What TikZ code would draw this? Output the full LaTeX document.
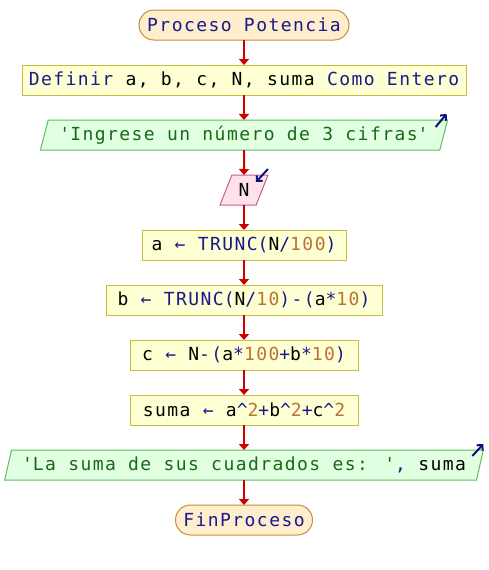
\documentclass[tikz,border=0pt]{standalone}
\usepackage{fontspec}
\usetikzlibrary{shapes.geometric,arrows.meta}
\newfontfamily\codefont{DejaVu Sans Mono}[LetterSpace=8]
\definecolor{kwblue}{RGB}{25,25,140}
\definecolor{numbrown}{RGB}{185,115,55}
\definecolor{strgreen}{RGB}{25,105,25}
\definecolor{termfill}{RGB}{255,238,205}
\definecolor{termline}{RGB}{200,140,60}
\definecolor{procfill}{RGB}{255,255,212}
\definecolor{procline}{RGB}{200,190,60}
\definecolor{outfill}{RGB}{225,255,225}
\definecolor{outline}{RGB}{95,190,95}
\definecolor{infill}{RGB}{255,225,238}
\definecolor{inline}{RGB}{195,95,135}
\definecolor{flowred}{RGB}{205,0,0}
\definecolor{iconblue}{RGB}{15,15,125}
\newcommand{\pkw}[1]{\textcolor{kwblue}{#1}}
\newcommand{\pnum}[1]{\textcolor{numbrown}{#1}}
\newcommand{\pstr}[1]{\textcolor{strgreen}{#1}}
\newcommand{\pop}[1]{\textcolor{kwblue}{#1}}
\begin{document}
\begin{tikzpicture}[x=1pt,y=-1pt,
    every node/.style={font=\codefont\fontsize{18}{20}\selectfont,inner sep=0pt,outer sep=0pt,line width=1pt},
    term/.style={draw=termline,fill=termfill,rounded corners=15pt,minimum height=30pt},
    proc/.style={draw=procline,fill=procfill,minimum height=30pt},
    io/.style={trapezium,trapezium left angle=68,trapezium right angle=112,trapezium stretches=true,minimum height=30pt},
    outbox/.style={io,draw=outline,fill=outfill},
    inbox/.style={io,draw=inline,fill=infill},
    flow/.style={-{Triangle[width=10pt,length=6pt]},line width=2pt,draw=flowred},
    ioarrow/.style={-{Straight Barb[length=4pt,width=8pt]},line width=2pt,draw=iconblue}]
        \useasboundingbox (0,0) rectangle (488,570);

        \node[term,minimum width=210pt](start)at(244,25){\pkw{Proceso Potencia}};
        \node[proc,minimum width=444pt](def)at(244,80){\pkw{Definir} a, b, c, N, suma \pkw{Como Entero}};
        \node[outbox,minimum width=409pt](in1)at(244,135){\pstr{\textquotesingle Ingrese un número de 3 cifras\textquotesingle}};
        \node[inbox,minimum width=48pt](readn)at(244,190){N};
        \node[proc,minimum width=204pt](asga)at(244,245){a \pop{←} \pkw{TRUNC}\pop{(}N\pop{/}\pnum{100}\pop{)}};
        \node[proc,minimum width=276pt](asgb)at(244,300){b \pop{←} \pkw{TRUNC}\pop{(}N\pop{/}\pnum{10}\pop{)-(}a\pop{*}\pnum{10}\pop{)}};
        \node[proc,minimum width=228pt](asgc)at(244,355){c \pop{←} N\pop{-(}a\pop{*}\pnum{100}\pop{+}b\pop{*}\pnum{10}\pop{)}};
        \node[proc,minimum width=228pt](asgsum)at(244,410){suma \pop{←} a\pop{\textasciicircum}\pnum{2}\pop{+}b\pop{\textasciicircum}\pnum{2}\pop{+}c\pop{\textasciicircum}\pnum{2}};
        \node[outbox,minimum width=480pt](out1)at(244,465){\pstr{\textquotesingle La suma de sus cuadrados es: \textquotesingle}\pop{,} suma};
        \node[term,minimum width=137pt](finish)at(244,520){\pkw{FinProceso}};

        \draw[flow](start)--(def);
        \draw[flow](def)--(in1);
        \draw[flow](in1)--(readn);
        \draw[flow](readn)--(asga);
        \draw[flow](asga)--(asgb);
        \draw[flow](asgb)--(asgc);
        \draw[flow](asgc)--(asgsum);
        \draw[flow](asgsum)--(out1);
        \draw[flow](out1)--(finish);

        \draw[ioarrow]([shift={(-12,7)}]in1.top right corner)--([shift={(-1,-6)}]in1.top right corner);
        \draw[ioarrow]([shift={(0,-6)}]readn.top right corner)--([shift={(-12,7)}]readn.top right corner);
        \draw[ioarrow]([shift={(-11,6)}]out1.top right corner)--([shift={(0,-6)}]out1.top right corner);
    \end{tikzpicture}
\end{document}
